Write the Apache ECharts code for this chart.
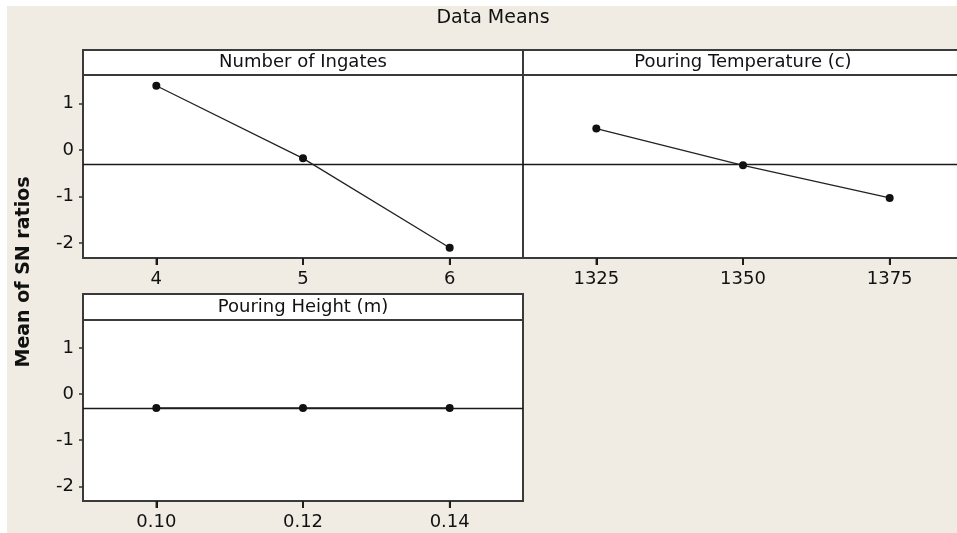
<!DOCTYPE html>
<html>
<head>
<meta charset="utf-8">
<script src="https://cdn.jsdelivr.net/npm/echarts@6/dist/echarts.min.js"></script>
<style>
  html, body { margin: 0; padding: 0; background: #ffffff; }
  #bg { position: absolute; left: 7px; top: 6px; width: 950px; height: 527px; background: #f0ece3; z-index: 0; }
  #chart { position: absolute; left: 0; top: 0; width: 957px; height: 533px; z-index: 1; }
</style>
</head>
<body>
<div id="bg"></div>
<div id="chart"></div>
<script>
// ---- data ----
const chartTitle = 'Data Means';
const yAxisTitle = 'Mean of SN ratios';
const panelTitles = ['Number of Ingates', 'Pouring Temperature (c)', 'Pouring Height (m)'];
const ingateLevels = ['4', '5', '6'];
const tempLevels = ['1325', '1350', '1375'];
const heightLevels = ['0.10', '0.12', '0.14'];
const ingateMeans = [1.38, -0.18, -2.10];
const tempMeans = [0.46, -0.33, -1.03];
const heightMeans = [-0.30, -0.30, -0.30];
const grandMean = -0.30;
const yTicks = [-2, -1, 0, 1];
const yMin = -2.32, yMax = 1.61;

// ---- layout ----
const FONT = 'DejaVu Sans';
const BORDER = '#3a3a3a';
const panels = [
  { left: 83, top: 75, width: 440, height: 183, header: 25, cats: ingateLevels, vals: ingateMeans, yLabels: true },
  { left: 523, top: 75, width: 440, height: 183, header: 25, cats: tempLevels, vals: tempMeans, yLabels: false },
  { left: 83, top: 320, width: 440, height: 181, header: 26, cats: heightLevels, vals: heightMeans, yLabels: true }
];

const grids = [], xAxes = [], yAxes = [], series = [], graphics = [];
panels.forEach((p, i) => {
  grids.push({ left: p.left, top: p.top, width: p.width, height: p.height, show: true,
    backgroundColor: '#ffffff', borderColor: BORDER, borderWidth: 2,
    outerBoundsMode: 'none' });
  xAxes.push({ type: 'category', gridIndex: i, data: p.cats,
    axisLine: { show: true, onZero: false, lineStyle: { color: BORDER, width: 2 } },
    axisTick: { show: true, alignWithLabel: true, length: 7, lineStyle: { color: '#111', width: 2 } },
    axisLabel: { color: '#111', fontFamily: FONT, fontSize: 18, margin: 12 },
    splitLine: { show: false } });
  yAxes.push({ type: 'value', gridIndex: i, min: yMin, max: yMax,
    axisLine: { show: false },
    axisTick: { show: p.yLabels, length: 4, customValues: yTicks, lineStyle: { color: '#333', width: 1.5 } },
    axisLabel: { show: p.yLabels, customValues: yTicks, color: '#111', fontFamily: FONT, fontSize: 18, margin: 9 },
    splitLine: { show: false } });
  series.push({ type: 'line', xAxisIndex: i, yAxisIndex: i, data: p.vals,
    symbol: 'circle', symbolSize: 8, itemStyle: { color: '#111' },
    lineStyle: { color: '#222', width: 1.3 }, z: 5,
    markLine: { silent: true, symbol: 'none', label: { show: false },
      lineStyle: { color: '#1a1a1a', width: 1.3, type: 'solid' },
      data: [{ yAxis: grandMean }] } });
  graphics.push({ type: 'rect', shape: { x: p.left, y: p.top - p.header, width: p.width, height: p.header },
    style: { fill: '#ffffff', stroke: BORDER, lineWidth: 2 } });
  graphics.push({ type: 'text', x: p.left + Math.min(p.width, 440) / 2, y: p.top - p.header / 2,
    style: { text: panelTitles[i], font: '18px "' + FONT + '"', fill: '#111', align: 'center', verticalAlign: 'middle' } });
});

graphics.push({ type: 'text', x: 493, y: 18,
  style: { text: chartTitle, font: '19px "' + FONT + '"', fill: '#111', align: 'center', verticalAlign: 'middle' } });
graphics.push({ type: 'text', x: 24, y: 272, rotation: Math.PI / 2,
  style: { text: yAxisTitle, font: 'bold 19px "' + FONT + '"', fill: '#111', align: 'center', verticalAlign: 'middle' } });

const chart = echarts.init(document.getElementById('chart'));
chart.setOption({
  backgroundColor: 'transparent',
  animation: false,
  grid: grids, xAxis: xAxes, yAxis: yAxes, series: series,
  graphic: { elements: graphics }
});

// add x tick marks positioned through the library's own scales
const tickEls = [];
panels.forEach((p, i) => {
  const yb = chart.convertToPixel({ yAxisIndex: i }, yMin);
  p.cats.forEach(c => {
    const px = chart.convertToPixel({ xAxisIndex: i }, c);
    tickEls.push({ type: 'line', z: 100, silent: true,
      shape: { x1: px, y1: yb, x2: px, y2: yb + 7 },
      style: { stroke: '#222', lineWidth: 1.6 } });
  });
});
chart.setOption({ graphic: { elements: graphics.concat(tickEls) } });
</script>
</body>
</html>
